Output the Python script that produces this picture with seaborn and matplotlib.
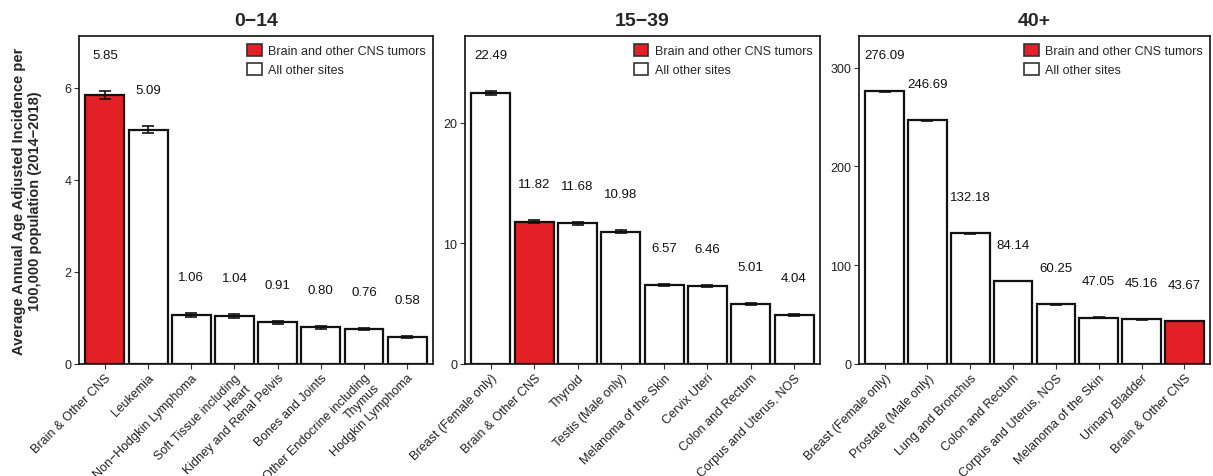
import numpy as np
import pandas as pd
import matplotlib
matplotlib.use("Agg")
import matplotlib.pyplot as plt
from matplotlib.patches import Patch
import seaborn as sns

sns.set_theme(style="white")
plt.rcParams['font.family'] = ['Liberation Sans', 'DejaVu Sans']

# ---------------- data ----------------
titles = ["0\u221214", "15\u221239", "40+"]

sites_0_14 = ["Brain & Other CNS", "Leukemia", "Non\u2212Hodgkin Lymphoma",
              "Soft Tissue including\nHeart", "Kidney and Renal Pelvis",
              "Bones and Joints", "Other Endocrine including\nThymus",
              "Hodgkin Lymphoma"]
rates_0_14 = [5.85, 5.09, 1.06, 1.04, 0.91, 0.80, 0.76, 0.58]
lower_0_14 = [5.76, 5.01, 1.02, 1.00, 0.88, 0.77, 0.73, 0.56]
upper_0_14 = [5.94, 5.17, 1.10, 1.08, 0.94, 0.83, 0.79, 0.60]
cns_0_14 = [True, False, False, False, False, False, False, False]

sites_15_39 = ["Breast (Female only)", "Brain & Other CNS", "Thyroid",
               "Testis (Male only)", "Melanoma of the Skin", "Cervix Uteri",
               "Colon and Rectum", "Corpus and Uterus, NOS"]
rates_15_39 = [22.49, 11.82, 11.68, 10.98, 6.57, 6.46, 5.01, 4.04]
lower_15_39 = [22.30, 11.69, 11.55, 10.85, 6.48, 6.36, 4.93, 3.96]
upper_15_39 = [22.68, 11.95, 11.81, 11.11, 6.66, 6.56, 5.09, 4.12]
cns_15_39 = [False, True, False, False, False, False, False, False]

sites_40 = ["Breast (Female only)", "Prostate (Male only)", "Lung and Bronchus",
            "Colon and Rectum", "Corpus and Uterus, NOS", "Melanoma of the Skin",
            "Urinary Bladder", "Brain & Other CNS"]
rates_40 = [276.09, 246.69, 132.18, 84.14, 60.25, 47.05, 45.16, 43.67]
lower_40 = [275.60, 246.20, 131.80, 83.90, 60.00, 46.80, 44.90, 43.40]
upper_40 = [276.60, 247.20, 132.50, 84.40, 60.50, 47.30, 45.40, 43.90]
cns_40 = [False, False, False, False, False, False, False, True]

yticks = [[0, 2, 4, 6], [0, 10, 20], [0, 100, 200, 300]]

legend_labels = ["Brain and other CNS tumors", "All other sites"]
RED = "#E41F25"
palette = {legend_labels[0]: RED, legend_labels[1]: "white"}

panels = [
    (sites_0_14, rates_0_14, lower_0_14, upper_0_14, cns_0_14),
    (sites_15_39, rates_15_39, lower_15_39, upper_15_39, cns_15_39),
    (sites_40, rates_40, lower_40, upper_40, cns_40),
]

W, H = 1213, 477
fig = plt.figure(figsize=(W / 100, H / 100), dpi=100)
axes_px = [(79, 433), (465, 820), (859, 1210)]
top_px, bot_px = 37, 365

for i, ((sites, rates, lo, hi, cns), (xl, xr)) in enumerate(zip(panels, axes_px)):
    ax = fig.add_axes([xl / W, (H - bot_px) / H, (xr - xl) / W, (bot_px - top_px) / H])
    df = pd.DataFrame({
        "site": sites, "rate": rates,
        "group": [legend_labels[0] if c else legend_labels[1] for c in cns],
    })
    sns.barplot(data=df, x="site", y="rate", hue="group", palette=palette,
                order=sites, hue_order=legend_labels, dodge=False, width=0.9,
                saturation=1, edgecolor="#111111", linewidth=1.6,
                legend=False, ax=ax)
    xs = np.arange(len(sites))
    r = np.array(rates)
    yerr = [r - np.array(lo), np.array(hi) - r]
    ax.errorbar(xs, r, yerr=yerr, fmt="none", ecolor="#111111",
                elinewidth=1.2, capsize=4.5, capthick=1.2, zorder=5)
    ymax = max(hi) * 1.2
    ax.set_ylim(0, ymax)
    ax.set_xlim(-0.6, len(sites) - 0.4)
    for x, v, h in zip(xs, rates, hi):
        ax.text(x, h + 0.11 * ymax, f"{v:.2f}", ha="center", va="center",
                fontsize=9.5, color="#111111")
    ax.set_yticks(yticks[i])
    ax.set_yticklabels([str(t) for t in yticks[i]], fontsize=9, color="#222222")
    ax.set_xticks(xs)
    ax.set_xticklabels(sites, rotation=45, ha="right", rotation_mode="anchor",
                       fontsize=9, color="#222222", multialignment="right")
    ax.tick_params(axis="both", which="both", direction="out", length=3.5,
                   width=0.8, color="#333333", bottom=True, left=True, pad=2)
    for s in ax.spines.values():
        s.set_visible(True)
        s.set_color("#111111")
        s.set_linewidth(1.2)
    ax.set_xlabel("")
    ax.set_ylabel("")
    ax.set_title(titles[i], fontsize=14, fontweight="bold", pad=8)
    handles = [Patch(facecolor=RED, edgecolor="#333333", linewidth=1.2),
               Patch(facecolor="white", edgecolor="#333333", linewidth=1.2)]
    ax.legend(handles, legend_labels, loc="upper right", frameon=False,
              fontsize=9, handlelength=1.15, handleheight=1.15,
              handletextpad=0.5, labelspacing=0.45, borderaxespad=0.3,
              borderpad=0.3)

fig.text(0.022, (H - (top_px + bot_px) / 2) / H,
         "Average Annual Age Adjusted Incidence per\n100,000 population (2014\u22122018)",
         rotation=90, ha="center", va="center", fontsize=10.5,
         fontweight="bold", multialignment="center")

fig.savefig("out.png", dpi=100)
